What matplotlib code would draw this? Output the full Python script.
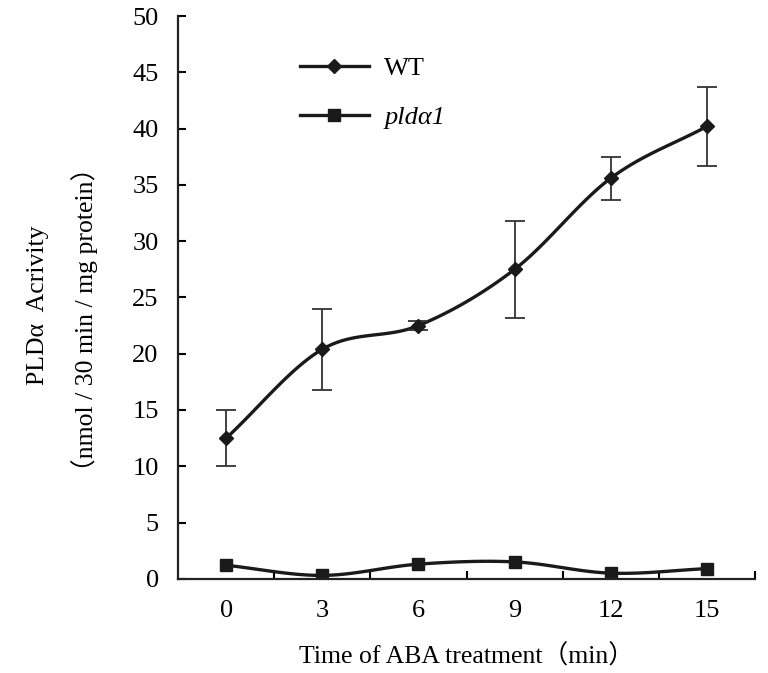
import numpy as np
import matplotlib
matplotlib.use("Agg")
import matplotlib.pyplot as plt
from matplotlib.lines import Line2D

plt.rcParams['font.family'] = ['Liberation Serif', 'Noto Sans CJK SC', 'DejaVu Serif']

# data
times = [0, 3, 6, 9, 12, 15]
wt = [12.5, 20.4, 22.5, 27.5, 35.6, 40.2]
wt_err = [2.5, 3.6, 0.4, 4.3, 1.9, 3.5]
pld = [1.2, 0.3, 1.3, 1.5, 0.5, 0.9]
tick_labels = ['0', '3', '6', '9', '12', '15']


def smooth(x, y, n=20):
    # catmull-rom curve through the points, like excel "smoothed line"
    x = np.asarray(x, float)
    y = np.asarray(y, float)
    px = np.concatenate([[2 * x[0] - x[1]], x, [2 * x[-1] - x[-2]]])
    py = np.concatenate([[2 * y[0] - y[1]], y, [2 * y[-1] - y[-2]]])
    xs, ys = [], []
    for i in range(1, len(px) - 2):
        t = np.linspace(0, 1, n, endpoint=False)
        for p, out in ((px, xs), (py, ys)):
            p0, p1, p2, p3 = p[i - 1], p[i], p[i + 1], p[i + 2]
            out.extend(0.5 * (2 * p1 + (-p0 + p2) * t
                              + (2 * p0 - 5 * p1 + 4 * p2 - p3) * t ** 2
                              + (-p0 + 3 * p1 - 3 * p2 + p3) * t ** 3))
    xs.append(x[-1])
    ys.append(y[-1])
    return xs, ys


fig = plt.figure(figsize=(7.68, 6.73), dpi=100)
ax = fig.add_axes([0.232, 0.140, 0.751, 0.836])

col = '#1a1a1a'
sx, sy = smooth(times, wt)
ax.plot(sx, sy, color=col, lw=2.4)
ax.errorbar(times, wt, yerr=wt_err, fmt='none', ecolor='#333333',
            elinewidth=1.3, capsize=7, capthick=1.3)
ax.plot(times, wt, 'D', color=col, ms=7.5)

sx, sy = smooth(times, pld)
ax.plot(sx, sy, color=col, lw=2.4)
ax.plot(times, pld, 's', color=col, ms=8.5)

ax.set_xlim(-1.5, 16.5)
ax.set_ylim(0, 50)
ax.set_yticks(np.arange(0, 51, 5))
ax.set_xticks(times)
ax.set_xticklabels(tick_labels)
ax.set_xticks(np.arange(1.5, 16.6, 3), minor=True)
ax.tick_params(axis='x', which='major', length=0, labelsize=19, pad=15)
ax.tick_params(axis='x', which='minor', direction='in', length=6, width=1.5)
ax.tick_params(axis='y', direction='in', length=6, width=1.5, labelsize=19, pad=14)
for s in ['top', 'right']:
    ax.spines[s].set_visible(False)
for s in ['left', 'bottom']:
    ax.spines[s].set_linewidth(1.6)
    ax.spines[s].set_color('#222222')

ax.set_xlabel('Time of ABA treatment（min）', fontsize=18.5, labelpad=16)
fig.text(0.050, 0.547, 'PLDα  Acrivity', rotation=90, fontsize=18.5,
         ha='center', va='center')
fig.text(0.110, 0.525, '（nmol / 30 min / mg protein）', rotation=90, fontsize=18.5,
         ha='center', va='center')

handles = [Line2D([], [], color=col, lw=2.4, marker='D', ms=7.5),
           Line2D([], [], color=col, lw=2.4, marker='s', ms=8.5)]
leg = ax.legend(handles, ['WT', 'pldα1'], frameon=False, fontsize=19,
                loc='upper left', bbox_to_anchor=(0.17, 0.97),
                handlelength=2.6, labelspacing=0.95, handletextpad=0.6)
leg.get_texts()[1].set_style('italic')

fig.savefig('out.png', dpi=100)
